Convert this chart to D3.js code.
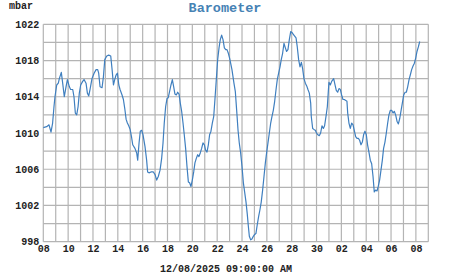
<!DOCTYPE html>
<html>
<head>
<meta charset="utf-8">
<script src="https://cdn.jsdelivr.net/npm/d3@7"></script>
<style>
  body { margin: 0; background: #fff; }
  text { font-family: "Liberation Mono", "DejaVu Sans Mono", monospace; font-weight: bold; }
</style>
</head>
<body>
<div id="chart"></div>
<script>
const WIDTH = 451;
const HEIGHT = 275;
const MARGIN = { TOP: 24.3, BOTTOM: 33.3, LEFT: 43.3, RIGHT: 22.7 };

const width = WIDTH - MARGIN.LEFT - MARGIN.RIGHT;
const height = HEIGHT - MARGIN.TOP - MARGIN.BOTTOM;

// days since the first tick (08)
const days = [
  0, 0.27, 0.46, 0.62, 0.75, 0.86, 0.94, 1.08, 1.21, 1.29, 1.45, 1.56, 1.69, 1.83, 1.94,
  2.10, 2.20, 2.37, 2.47, 2.58, 2.69, 2.80, 2.90, 3.01, 3.17, 3.28, 3.44, 3.55, 3.66, 3.76,
  3.92, 4.09, 4.25, 4.38, 4.46, 4.57, 4.73, 4.84, 4.95, 5.11, 5.27, 5.43, 5.54, 5.65, 5.75,
  5.86, 5.97, 6.08, 6.18, 6.34, 6.45, 6.56, 6.67, 6.77, 6.88, 6.99, 7.10, 7.20,
  7.38, 7.52, 7.60, 7.71, 7.81, 7.92, 8.03, 8.19, 8.32, 8.40, 8.51, 8.67, 8.86, 9.00, 9.13,
  9.26, 9.40, 9.53, 9.64, 9.74, 9.85, 9.96, 10.06, 10.17, 10.28, 10.39, 10.50, 10.60, 10.71,
  10.82, 10.93, 11.03, 11.14, 11.25, 11.35, 11.46, 11.57, 11.68, 11.78, 11.89, 12.00, 12.11,
  12.21, 12.32, 12.43, 12.53, 12.64, 12.75, 12.86, 12.97, 13.07, 13.18, 13.29, 13.39, 13.50,
  13.61, 13.72, 13.82, 13.93, 14.04, 14.15, 14.25, 14.36, 14.47, 14.58, 14.69, 14.79, 14.90,
  15.01, 15.19, 15.35, 15.46, 15.57, 15.68, 15.78, 15.89, 16.00, 16.11, 16.21, 16.32, 16.42,
  16.51, 16.59, 16.70, 16.80, 16.91, 17.02, 17.12, 17.23, 17.34, 17.44, 17.55, 17.66, 17.77,
  17.88, 17.98, 18.09, 18.20, 18.31, 18.41, 18.52, 18.63, 18.74, 18.84, 18.95, 19.06, 19.16,
  19.27, 19.38, 19.49, 19.59, 19.70, 19.81, 19.92, 20.02, 20.13, 20.24, 20.35, 20.45, 20.56,
  20.67, 20.78, 20.88, 20.99, 21.10, 21.21, 21.31, 21.42, 21.53, 21.58, 21.69, 21.79, 21.90,
  22.00, 22.11, 22.22, 22.33, 22.44, 22.55, 22.65, 22.76, 22.87, 22.95,
  23.00, 23.11, 23.22, 23.38, 23.49, 23.59, 23.70, 23.81, 23.92, 24.02, 24.13, 24.24, 24.35,
  24.45, 24.51, 24.61, 24.72, 24.83, 24.94, 25.04, 25.15, 25.26, 25.37, 25.47, 25.58, 25.69,
  25.79, 25.90, 26.01, 26.11, 26.22, 26.33, 26.44, 26.55, 26.65, 26.76, 26.87, 26.97, 27.08,
  27.19, 27.30, 27.40, 27.51, 27.62, 27.73, 27.83, 27.94, 28.05, 28.16, 28.26, 28.37, 28.48,
  28.59, 28.70, 28.81, 28.91, 29.02, 29.13, 29.23, 29.34, 29.45, 29.55, 29.66, 29.77, 29.88,
  29.99, 30.09, 30.20, 30.31
];

const mbar = [
  1010.6, 1010.7, 1010.9, 1010.1, 1011.1, 1012.9, 1014.0, 1015.3, 1015.5, 1016.0, 1016.7, 1015.5, 1014.0, 1015.1, 1015.9,
  1015.1, 1014.8, 1014.8, 1014.0, 1012.2, 1012.0, 1012.9, 1014.4, 1015.3, 1015.7, 1015.9, 1015.5, 1014.4, 1014.1, 1014.8,
  1016.0, 1016.6, 1017.0, 1017.0, 1016.6, 1015.1, 1015.0, 1016.2, 1018.1, 1018.5, 1018.6, 1018.5, 1017.0, 1015.3, 1015.9,
  1016.4, 1016.6, 1015.3, 1014.8, 1014.2, 1013.7, 1012.7, 1011.5, 1011.1, 1010.8, 1010.4, 1009.6, 1008.7,
  1008.3, 1007.8, 1007.0, 1008.9, 1010.2, 1010.3, 1009.8, 1008.5, 1007.0, 1005.7, 1005.6, 1005.7, 1005.7, 1005.4, 1004.8,
  1005.2, 1005.9, 1007.2, 1008.9, 1011.1, 1012.9, 1013.8, 1013.9, 1014.6, 1015.3, 1015.9, 1015.1, 1014.3, 1014.2,
  1014.5, 1014.3, 1013.3, 1012.4, 1011.1, 1009.8, 1008.3, 1006.3, 1004.6, 1004.5, 1004.1, 1004.8, 1005.7,
  1006.7, 1007.2, 1007.6, 1007.4, 1007.8, 1008.3, 1008.9, 1008.7, 1008.1, 1007.9, 1008.7, 1009.8, 1010.2,
  1011.1, 1011.8, 1013.7, 1015.9, 1018.1, 1019.4, 1020.3, 1020.8, 1020.3, 1019.4, 1019.2, 1019.2, 1018.8,
  1018.2, 1017.0, 1015.5, 1014.6, 1012.5, 1010.3, 1008.9, 1007.8, 1006.3, 1004.5, 1003.5, 1002.4, 1001.1,
  999.7, 998.6, 998.2, 998.3, 998.6, 998.8, 998.9, 999.9, 1000.8, 1001.5, 1002.4, 1003.7, 1005.2,
  1006.7, 1007.8, 1008.9, 1010.0, 1011.1, 1011.8, 1012.5, 1013.5, 1014.8, 1015.9, 1016.6, 1017.3, 1018.1,
  1018.8, 1019.9, 1019.4, 1019.0, 1019.2, 1020.3, 1021.2, 1021.1, 1020.9, 1020.7, 1020.5, 1019.5, 1018.1,
  1017.3, 1017.8, 1017.1, 1016.0, 1015.5, 1015.2, 1014.8, 1014.4, 1013.3, 1011.8, 1010.5, 1010.4, 1010.3,
  1010.0, 1009.8, 1009.7, 1010.0, 1010.8, 1010.5, 1010.8, 1011.8, 1012.9, 1014.6,
  1015.6, 1015.3, 1015.7, 1016.0, 1015.3, 1014.7, 1014.5, 1014.9, 1014.8, 1014.2, 1013.7, 1013.7, 1013.6,
  1013.5, 1012.2, 1011.1, 1010.5, 1011.1, 1010.9, 1010.3, 1009.6, 1009.4, 1009.4, 1009.2, 1008.7, 1009.0,
  1009.8, 1010.2, 1009.8, 1008.7, 1007.9, 1007.0, 1006.6, 1005.2, 1003.5, 1003.7, 1003.6, 1004.1, 1004.8,
  1005.9, 1007.0, 1008.3, 1009.0, 1010.0, 1011.1, 1012.0, 1012.5, 1012.5, 1012.2, 1012.4, 1012.0, 1011.3,
  1011.0, 1011.6, 1012.5, 1013.3, 1014.2, 1014.5, 1014.5, 1015.1, 1015.9, 1016.4, 1017.0, 1017.4, 1017.7,
  1018.3, 1019.0, 1019.5, 1020.1
];

const xTickLabels = ['08', '10', '12', '14', '16', '18', '20', '22', '24', '26', '28', '30', '02', '04', '06', '08'];
const yTickValues = [998, 1002, 1006, 1010, 1014, 1018, 1022];
const dateLabel = '12/08/2025 09:00:00 AM';

const data = days.map((d, i) => ({ day: d, value: mbar[i] }));

const svg = d3.select('#chart')
  .append('svg')
    .attr('width', WIDTH)
    .attr('height', HEIGHT);

const container = svg.append('g')
    .attr('transform', `translate(${MARGIN.LEFT}, ${MARGIN.TOP})`);

const x = d3.scaleLinear().domain([0, 31]).range([0, width]);
const y = d3.scaleLinear().domain([998, 1022]).range([height, 0]);

// grid
container.append('g')
  .selectAll('line.v')
  .data(d3.range(0, 32))
  .enter()
  .append('line')
    .attr('x1', d => x(d)).attr('x2', d => x(d))
    .attr('y1', 0).attr('y2', height)
    .attr('stroke', '#b4b4b4')
    .attr('stroke-width', 1.2);

container.append('g')
  .selectAll('line.h')
  .data(d3.range(998, 1023, 2))
  .enter()
  .append('line')
    .attr('x1', 0).attr('x2', width)
    .attr('y1', d => y(d)).attr('y2', d => y(d))
    .attr('stroke', '#b4b4b4')
    .attr('stroke-width', 1.2);

// axes labels
const xAxis = container.append('g')
  .attr('transform', `translate(0, ${height})`)
  .call(d3.axisBottom(x)
    .tickValues(d3.range(0, 31, 2))
    .tickFormat((d, i) => xTickLabels[i])
    .tickSize(0)
    .tickPadding(3));

const yAxis = container.append('g')
  .call(d3.axisLeft(y)
    .tickValues(yTickValues)
    .tickFormat(d3.format('d'))
    .tickSize(0)
    .tickPadding(4));

container.selectAll('.domain').remove();
container.selectAll('.tick text')
  .attr('fill', '#222')
  .style('font-size', '10px');

// line
const line = d3.line()
  .x(d => x(d.day))
  .y(d => y(d.value));

container.append('path')
  .datum(data)
  .attr('fill', 'none')
  .attr('stroke', '#3f7fbf')
  .attr('stroke-width', 1.2)
  .attr('stroke-linejoin', 'round')
  .attr('d', line);

// titles
svg.append('text')
  .attr('x', 225)
  .attr('y', 12)
  .attr('text-anchor', 'middle')
  .attr('fill', '#4682b4')
  .style('font-size', '13.5px')
  .text('Barometer');

svg.append('text')
  .attr('x', 9)
  .attr('y', 9)
  .attr('fill', '#222')
  .style('font-size', '10px')
  .text('mbar');

svg.append('text')
  .attr('x', 226)
  .attr('y', 272)
  .attr('text-anchor', 'middle')
  .attr('fill', '#222')
  .style('font-size', '10px')
  .text(dateLabel);
</script>
</body>
</html>
